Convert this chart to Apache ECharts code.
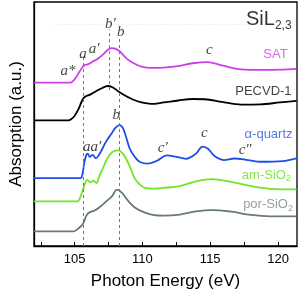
<!DOCTYPE html>
<html>
<head>
<meta charset="utf-8">
<script src="https://cdn.jsdelivr.net/npm/echarts@6/dist/echarts.min.js"></script>
<style>html,body{margin:0;padding:0;background:#fff}#c{width:299px;height:295px}</style>
</head>
<body>
<div id="c"></div>
<script>
// ---- data (photon energy in eV, absorption in arbitrary offset units) ----
const satE = [102.0,104.64,104.86,105.14,105.36,105.57,105.71,105.86,106.07,106.36,106.71,107.14,107.43,107.71,108.0,108.29,108.57,108.86,109.29,109.93,110.64,111.57,112.64,113.71,114.79,115.86,117.29,118.71,120.36,121.36];
const satY = [166.7,166.7,168,173,178,182.5,184.5,185,186,188.5,191,196,200,202,201.5,199,195,191,187,183,181.7,182,183.5,186.5,187.7,184.3,180.3,179.7,180,180.7];

const pecE = [102.0,104.57,104.79,105.0,105.29,105.57,105.79,106.14,106.57,107.0,107.43,107.79,108.21,108.71,109.29,109.93,110.64,111.57,112.64,113.71,114.79,115.86,117.29,118.71,120.14,121.36];
const pecY = [128.3,128.3,130,133,140,149,152.5,154.5,158,161,163.3,162,158,153.5,149.5,146.5,145,146.5,148.5,150,149.5,147,144.3,144.5,146.5,148];

const qtzE = [102.0,105.43,105.57,105.71,105.86,105.96,106.11,106.32,106.57,106.79,107.0,107.21,107.43,107.71,108.0,108.31,108.57,108.82,109.07,109.43,109.79,110.36,111.07,111.79,112.5,113.21,113.93,114.43,114.86,115.29,116.0,116.79,117.79,118.71,120.36,121.36];
const qtzY = [69.3,69.3,73,85,93,94.3,91,93,89.5,93,98,104,109,114.5,120.5,123.3,120,110,99,91,86,84,87,92.5,91,89,94,101.5,99,92,87.7,89.3,87.7,86,86.7,89.5];

const amE = [102.0,105.21,105.36,105.5,105.64,105.79,105.93,106.14,106.38,106.62,106.81,107.07,107.36,107.64,107.93,108.21,108.43,108.71,109.07,109.43,109.79,110.14,110.86,111.57,112.76,113.95,115.14,116.36,118.0,119.43,121.36];
const amY = [45.5,45.5,48,53,59,65,67.5,65,66.7,64.3,71,79,88,94,97,97.5,96,91,81,69,63,59.5,58.5,59.3,61,66,68.3,66,61,58.3,57.7];

const porE = [102.0,104.93,105.26,105.62,105.86,106.09,106.45,106.81,107.29,107.76,108.12,108.48,108.95,109.43,110.14,110.86,111.57,112.76,113.95,115.14,116.57,118.0,119.43,121.36];
const porY = [15,15,17.7,22.7,31,34.3,36,39.3,45,51,57.5,54.5,46,39.3,34.3,31.5,31,32,35.3,36.7,35,31.7,30.3,30.3];

// feature marker lines (a, b', b)
const dashE = [105.66, 107.52, 108.31];
const dashTop = [193, 221, 214];
const dashBottom = [0, 159, 0];

// feature labels
const featText = ['a*','a','a\u2032','b\u2032','b','c','b','a','a\u2032','c\u2032','c','c\u2033'];
const featE = [104.5,105.61,106.43,107.64,108.39,114.93,108.07,105.89,106.57,111.5,114.57,117.57];
const featY = [179,196,201,226,218,200,134,101,101,100,115,98];

// sample labels
const sampleText = ['{t|SAT}','{t|PECVD-1}','{t|\u03b1-quartz}','{t|am-SiO}{s|2}','{t|por-SiO}{s|2}','{b|SiL}{u|2,3}'];
const sampleE = [120.71,121.0,121.07,120.95,121.1,121.0];
const sampleY = [195,158,114,72,42,231];
const sampleColor = ['#cc44e6','#111111','#2a55e0','#66dd22','#7a8888','#000000'];

// ticks
const tickVals = [102.5,105,107.5,110,112.5,115,117.5,120];
const labelVals = [105,110,115,120];

const zip = (a,b) => a.map((v,i)=>[v,b[i]]);

const chart = echarts.init(document.getElementById('c'));
const lineSeries = (name, E, Y, color) => ({
  name, type:'line', data: zip(E,Y), smooth: 0.35, symbol:'none',
  lineStyle:{color, width:1.8}, silent:true, z:3
});

const option = {
  animation:false,
  grid:{left:26,right:2,top:2,bottom:44,show:true,borderColor:'#000',borderWidth:1.3,backgroundColor:'transparent'},
  xAxis:{
    type:'value', min:102, max:121.4,
    name:'Photon Energy (eV)', nameLocation:'middle', nameGap:27,
    nameTextStyle:{fontSize:17,color:'#000',fontFamily:'Liberation Sans'},
    axisLine:{show:true,lineStyle:{color:'#000',width:1.3}},
    axisTick:{show:true,inside:true,length:4,customValues:tickVals,lineStyle:{color:'#000',width:1}},
    axisLabel:{customValues:labelVals,fontSize:13,color:'#000',margin:7,fontFamily:'Liberation Sans'},
    splitLine:{show:false}
  },
  yAxis:{
    type:'value', min:0, max:249,
    name:'Absorption (a.u.)', nameLocation:'middle', nameGap:9,
    nameTextStyle:{fontSize:17,color:'#000',fontFamily:'Liberation Sans'},
    axisLine:{show:true,lineStyle:{color:'#000',width:1.3}},
    axisTick:{show:false}, axisLabel:{show:false}, splitLine:{show:false}
  },
  series:[
    {
      type:'line', data:[], silent:true,
      markLine:{
        silent:true, symbol:'none', animation:false,
        label:{show:false},
        lineStyle:{color:'#777',type:[3,3],width:1},
        data: dashE.map((e,i)=>[{coord:[e,dashBottom[i]]},{coord:[e,dashTop[i]]}]).concat([
          [{coord:[103.6,226],lineStyle:{color:'#e6e6e6',type:[1,2],width:1}},{coord:[118,226]}]
        ])
      }
    },
    lineSeries('SAT', satE, satY, '#cc3ee8'),
    lineSeries('PECVD-1', pecE, pecY, '#000000'),
    lineSeries('alpha-quartz', qtzE, qtzY, '#1e50e6'),
    lineSeries('am-SiO2', amE, amY, '#70e626'),
    lineSeries('por-SiO2', porE, porY, '#687a7a'),
    {
      type:'scatter', symbolSize:0, silent:true, z:5,
      data: featText.map((t,i)=>({value:[featE[i],featY[i]], name:t})),
      label:{show:true, position:'inside', formatter:p=>p.name,
        fontFamily:'Liberation Serif', fontStyle:'italic', fontSize:15, color:'#111'}
    },
    {
      type:'scatter', symbolSize:0, silent:true, z:5,
      data: sampleText.map((t,i)=>({value:[sampleE[i],sampleY[i]], name:t,
        label:{rich:{
          t:{fontSize:13,lineHeight:16,color:sampleColor[i],fontFamily:'Liberation Sans'},
          s:{fontSize:9,lineHeight:9,padding:[7,0,0,0],color:sampleColor[i],fontFamily:'Liberation Sans'},
          b:{fontSize:20,lineHeight:22,color:'#000',fontFamily:'Liberation Sans'},
          u:{fontSize:12,lineHeight:12,padding:[12,0,0,0],color:'#000',fontFamily:'Liberation Sans'}
        }}})),
      label:{show:true, position:'left', distance:0, formatter:p=>p.name}
    }
  ]
};
chart.setOption(option);
</script>
</body>
</html>
